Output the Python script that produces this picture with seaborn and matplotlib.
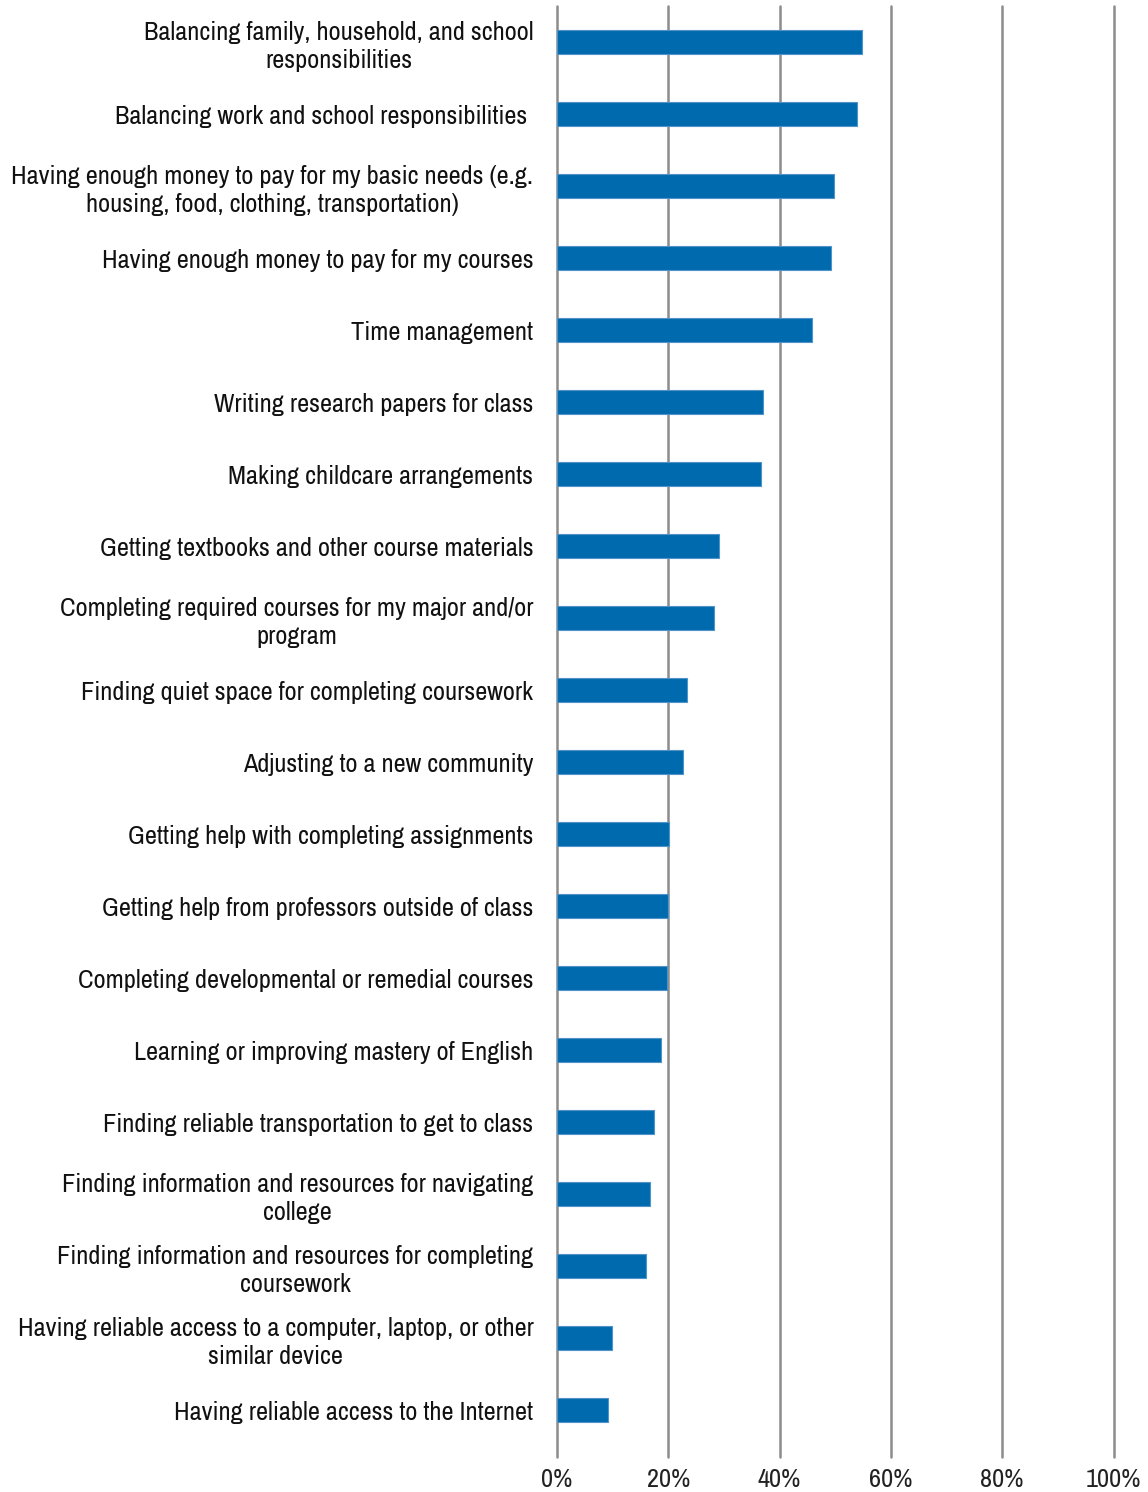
import matplotlib
matplotlib.use("Agg")
import matplotlib.pyplot as plt
import seaborn as sns
import pandas as pd

categories = [
    "Balancing family, household, and school\nresponsibilities",
    "Balancing work and school responsibilities ",
    "Having enough money to pay for my basic needs (e.g.\nhousing, food, clothing, transportation)",
    "Having enough money to pay for my courses",
    "Time management",
    "Writing research papers for class",
    "Making childcare arrangements",
    "Getting textbooks and other course materials",
    "Completing required courses for my major and/or\nprogram",
    "Finding quiet space for completing coursework",
    "Adjusting to a new community",
    "Getting help with completing assignments",
    "Getting help from professors outside of class",
    "Completing developmental or remedial courses",
    "Learning or improving mastery of English",
    "Finding reliable transportation to get to class",
    "Finding information and resources for navigating\ncollege",
    "Finding information and resources for completing\ncoursework",
    "Having reliable access to a computer, laptop, or other\nsimilar device",
    "Having reliable access to the Internet",
]
shares = [54.8, 53.9, 49.8, 49.2, 45.9, 37.0, 36.7, 29.1, 28.2, 23.3,
          22.6, 20.1, 20.0, 19.8, 18.7, 17.4, 16.8, 16.0, 9.9, 9.1]
xtick_values = [0, 20, 40, 60, 80, 100]
xtick_labels = ["0%", "20%", "40%", "60%", "80%", "100%"]

sns.set_theme(style="white")
plt.rcParams["font.family"] = ["Archivo Narrow", "Liberation Sans", "DejaVu Sans"]

df = pd.DataFrame({"item": categories, "share": shares})

fig = plt.figure(figsize=(11.48, 14.92), dpi=100)
ax = fig.add_axes([557 / 1148, 1 - 1457 / 1492, (1113.5 - 557) / 1148, (1457 - 6) / 1492])

sns.barplot(data=df, x="share", y="item", orient="h", color="#006AAE",
            saturation=1, width=0.33, edgecolor="#4F93C8", linewidth=0.8, ax=ax)

ax.set_xlim(0, 100)
ax.set_ylim(19.65, -0.5)
ax.set_xticks(xtick_values)
ax.set_xticklabels(xtick_labels)
ax.set_xlabel("")
ax.set_ylabel("")

for spine in ax.spines.values():
    spine.set_visible(False)

ax.grid(False)
for v in xtick_values:
    ax.axvline(v, color="#8C8C8C", linewidth=1.8, zorder=0, clip_on=False)

ax.tick_params(axis="y", length=0, pad=17, labelsize=19, labelcolor="#111111")
ax.tick_params(axis="x", length=0, pad=8, labelsize=19, labelcolor="#222222")
for lab in ax.get_yticklabels():
    lab.set_multialignment("center")
    lab.set_linespacing(1.25)

fig.savefig("out.png", dpi=100, facecolor="white")
